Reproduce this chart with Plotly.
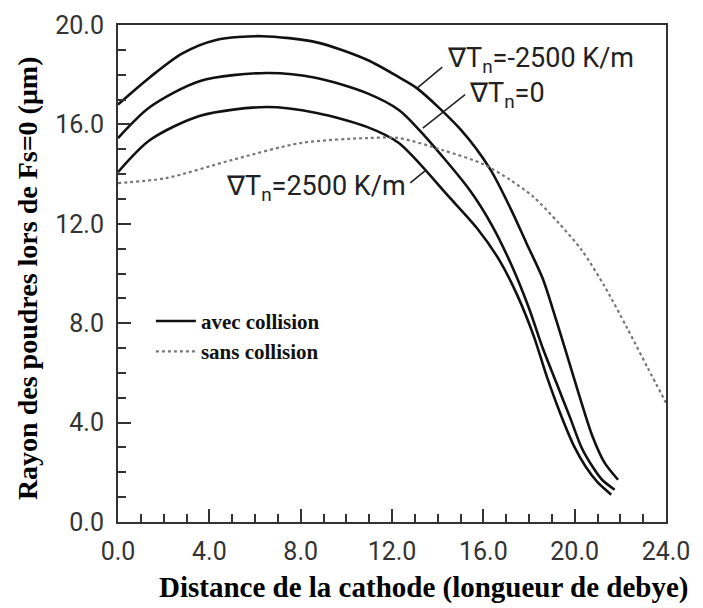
import plotly.graph_objects as go

# ---- data ----
x_neg = [0, 1.4, 2.8, 4.3, 6.3, 8.7, 10.9, 12.3, 13.1, 15.0, 16.3, 17.2, 17.9, 18.6, 19.2, 19.9, 20.4, 20.8, 21.3, 21.9]
y_neg = [16.8, 17.9, 18.85, 19.4, 19.55, 19.3, 18.6, 17.9, 17.45, 15.8, 14.2, 12.6, 11.2, 9.8, 8.1, 6.0, 4.5, 3.4, 2.4, 1.7]

x_zero = [0, 1.4, 3.6, 6.5, 8.7, 10.9, 12.3, 13.2, 15.4, 16.4, 17.3, 18.0, 18.6, 19.2, 19.8, 20.3, 20.8, 21.2, 21.75]
y_zero = [15.45, 16.7, 17.75, 18.07, 17.87, 17.26, 16.58, 15.77, 13.36, 11.9, 10.2, 8.6, 7.0, 5.6, 4.2, 3.0, 2.2, 1.7, 1.3]

x_pos = [0, 1.4, 3.6, 6.5, 8.7, 10.9, 12.3, 14.5, 15.7, 16.7, 17.5, 18.2, 18.8, 19.4, 20.0, 20.5, 21.0, 21.6]
y_pos = [14.08, 15.37, 16.35, 16.7, 16.46, 15.9, 15.25, 13.08, 11.85, 10.54, 9.1, 7.5, 5.8, 4.3, 3.0, 2.2, 1.6, 1.1]

x_sans = [0, 2.1, 5.0, 8.0, 10.9, 12.3, 14.2, 16.0, 17.2, 18.2, 19.3, 20.3, 21.3, 22.3, 23.2, 24.0]
y_sans = [13.64, 13.84, 14.57, 15.25, 15.45, 15.45, 14.97, 14.4, 13.75, 13.08, 12.03, 10.95, 9.5, 7.8, 6.2, 4.8]

x_ticks = [0, 4, 8, 12, 16, 20, 24]
y_ticks = [0, 4, 8, 12, 16, 20]

labels = ["∇T<sub>n</sub>=-2500 K/m", "∇T<sub>n</sub>=0", "∇T<sub>n</sub>=2500 K/m"]
legend_names = ["<b>avec collision</b>", "<b>sans collision</b>"]
x_title = "<b>Distance de la cathode (longueur de debye)</b>"
y_title = "<b>Rayon des poudres lors de Fs=0 (μm)</b>"

solid = dict(color="#111111", width=2.6)
sm = 0.8
fig = go.Figure()
fig.add_trace(go.Scatter(x=x_neg, y=y_neg, mode="lines", line=dict(shape="spline", smoothing=sm, **solid),
                         name=legend_names[0], showlegend=True))
fig.add_trace(go.Scatter(x=x_zero, y=y_zero, mode="lines", line=dict(shape="spline", smoothing=sm, **solid),
                         showlegend=False))
fig.add_trace(go.Scatter(x=x_pos, y=y_pos, mode="lines", line=dict(shape="spline", smoothing=sm, **solid),
                         showlegend=False))
fig.add_trace(go.Scatter(x=x_sans, y=y_sans, mode="lines",
                         line=dict(shape="spline", smoothing=sm, color="#777777", width=2.2, dash="dot"),
                         name=legend_names[1], showlegend=True))

# pointer lines for the labels
ptr = [((13.1, 17.46), (14.2, 18.3)), ((13.35, 15.85), (15.2, 17.2)), ((12.8, 13.65), (13.5, 14.17))]
for (a, b) in ptr:
    fig.add_shape(type="line", x0=a[0], y0=a[1], x1=b[0], y1=b[1], line=dict(color="#222", width=1.6))

lab_font = dict(family="Roboto, DejaVu Sans", size=27, color="#222")
fig.add_annotation(x=14.3, y=18.6, text=labels[0], showarrow=False, xanchor="left", yanchor="middle", font=lab_font)
fig.add_annotation(x=15.27, y=17.18, text=labels[1], showarrow=False, xanchor="left", yanchor="middle", font=lab_font)
fig.add_annotation(x=12.7, y=13.44, text=labels[2], showarrow=False, xanchor="right", yanchor="middle", font=lab_font)

# axis titles
fig.add_annotation(xref="paper", yref="paper", x=0.558, y=-0.131, text=x_title, showarrow=False,
                   xanchor="center", yanchor="middle",
                   font=dict(family="Liberation Serif, Times New Roman", size=29, color="#000"))
fig.add_annotation(xref="paper", yref="paper", x=-0.164, y=0.491, text=y_title, showarrow=False,
                   xanchor="center", yanchor="middle", textangle=-90,
                   font=dict(family="Liberation Serif, Times New Roman", size=28, color="#000"))

axis_common = dict(
    showline=True, linecolor="#333", linewidth=2, mirror=True,
    ticks="inside", ticklen=13, tickwidth=2, tickcolor="#333",
    showgrid=False, zeroline=False, automargin=False,
    tickfont=dict(family="Roboto, DejaVu Sans", size=25, color="#333"),
    tickformat=".1f",
)

# the page body adds an 8 px offset, so the figure is drawn 8 px smaller
fig.update_layout(
    width=695, height=600,
    margin=dict(l=110, r=37, t=17, b=86),
    paper_bgcolor="white", plot_bgcolor="white",
    xaxis=dict(range=[0, 24], tickvals=x_ticks,
               minor=dict(dtick=1, ticks="inside", ticklen=8, tickwidth=2, tickcolor="#333"),
               ticklabelstandoff=6,
               **axis_common),
    yaxis=dict(range=[0, 20], tickvals=y_ticks,
               minor=dict(dtick=1, ticks="inside", ticklen=8, tickwidth=2, tickcolor="#333"),
               ticklabelstandoff=7,
               **axis_common),
    legend=dict(x=0.06, y=0.445, xanchor="left", yanchor="top", bgcolor="rgba(0,0,0,0)",
                font=dict(family="Liberation Serif, Times New Roman", size=21, color="#111"),
                tracegroupgap=0, itemwidth=40),
    showlegend=True,
)

fig.write_html("out.html")
